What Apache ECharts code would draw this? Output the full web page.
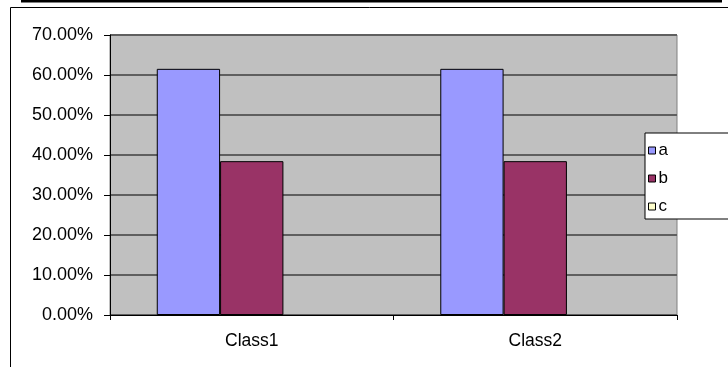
<!DOCTYPE html>
<html>
<head>
<meta charset="utf-8">
<script src="https://cdn.jsdelivr.net/npm/echarts@6/dist/echarts.min.js"></script>
<style>
  html, body { margin: 0; padding: 0; background: #fff; }
  #chart { width: 728px; height: 367px; }
</style>
</head>
<body>
<div id="chart"></div>
<script>
// Categories and series values (fractions)
const categories = ['Class1', 'Class2'];
const seriesNames = ['a', 'b', 'c'];
const valuesA = [0.6154, 0.6154];
const valuesB = [0.3846, 0.3846];
const valuesC = [0, 0];
const yTicks = [0, 0.1, 0.2, 0.3, 0.4, 0.5, 0.6, 0.7];

const colors = ['#9999FF', '#993366', '#FFFFCC'];
const font = '"Liberation Sans", Arial, sans-serif';

const chart = echarts.init(document.getElementById('chart'), null, { renderer: 'canvas' });

const seriesData = [valuesA, valuesB, valuesC];

chart.setOption({
  animation: false,
  backgroundColor: '#ffffff',
  textStyle: { fontFamily: font },
  grid: {
    left: 110, right: 51, top: 35, bottom: 52,
    show: true,
    backgroundColor: '#C0C0C0',
    borderColor: '#808080',
    borderWidth: 1
  },
  xAxis: {
    type: 'category',
    data: categories,
    axisLine: { lineStyle: { color: '#000', width: 1 } },
    axisTick: { show: true, alignWithLabel: false, length: 5, lineStyle: { color: '#000' } },
    axisLabel: { color: '#000', fontSize: 17.5, fontFamily: font, margin: 17 },
    splitLine: { show: false }
  },
  yAxis: {
    type: 'value',
    min: yTicks[0],
    max: yTicks[yTicks.length - 1],
    interval: 0.1,
    axisLine: { show: true, lineStyle: { color: '#000', width: 1 } },
    axisTick: { show: true, length: 6, lineStyle: { color: '#000' } },
    axisLabel: {
      color: '#000', fontSize: 18, fontFamily: font, margin: 17,
      formatter: v => (v * 100).toFixed(2) + '%'
    },
    splitLine: { show: true, lineStyle: { color: '#5f5f5f', width: 2 } }
  },
  legend: {
    orient: 'vertical',
    left: 645,
    top: 133,
    padding: [9, 100, 4, 3],
    itemGap: 11,
    itemWidth: 7,
    itemHeight: 7,
    icon: 'rect',
    borderColor: '#000',
    borderWidth: 1,
    backgroundColor: '#fff',
    textStyle: { color: '#000', fontSize: 17, fontFamily: font, padding: [0, 0, 0, -2] },
    data: seriesNames.map(n => ({ name: n, itemStyle: { borderColor: '#000', borderWidth: 1 } }))
  },
  graphic: [
    {
      type: 'rect',
      shape: { x: 10.5, y: 7.5, width: 800, height: 400 },
      style: { fill: 'none', stroke: '#000', lineWidth: 1 },
      silent: true, z: -1
    },
    {
      type: 'line',
      shape: { x1: 21, y1: 1, x2: 722, y2: 1 },
      style: { stroke: '#000', lineWidth: 3 },
      silent: true
    }
  ],
  series: seriesNames.map((name, i) => ({
    name: name,
    type: 'bar',
    data: seriesData[i],
    barGap: '0%',
    barCategoryGap: '33%',
    itemStyle: { color: colors[i], borderColor: '#000', borderWidth: seriesData[i].some(v => v > 0) ? 1 : 0 }
  }))
});
</script>
</body>
</html>
